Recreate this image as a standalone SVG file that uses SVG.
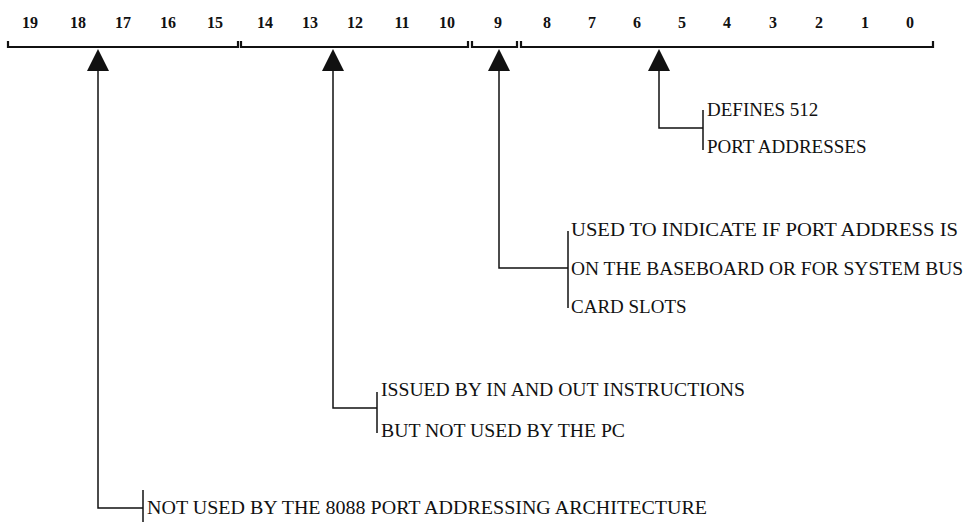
<svg xmlns="http://www.w3.org/2000/svg" width="976" height="522" viewBox="0 0 976 522">
<defs>
<style>
.bit{font-family:"Liberation Serif","Times New Roman",serif;font-size:16px;font-weight:bold;fill:#111;text-anchor:middle}
.lbl{font-family:"Liberation Serif","Times New Roman",serif;font-size:19px;fill:#111}
.br{fill:none;stroke:#111;stroke-width:2.2}
.ln{fill:none;stroke:#111;stroke-width:1.5}
.ah{fill:#111}
</style>
</defs>
<rect width="976" height="522" fill="#fff"/>
<g id="bitfield">
<path class="br" d="M8,41 V47 H238 V41"/>
<path class="br" d="M241,41 V47 H468 V41"/>
<path class="br" d="M472,41 V47 H517 V41"/>
<path class="br" d="M521,41 V47 H933 V41"/>
<text class="bit" x="30" y="28">19</text>
<text class="bit" x="78" y="28">18</text>
<text class="bit" x="123" y="28">17</text>
<text class="bit" x="168" y="28">16</text>
<text class="bit" x="215" y="28">15</text>
<text class="bit" x="265" y="28">14</text>
<text class="bit" x="310" y="28">13</text>
<text class="bit" x="355" y="28">12</text>
<text class="bit" x="402" y="28">11</text>
<text class="bit" x="447" y="28">10</text>
<text class="bit" x="498" y="28">9</text>
<text class="bit" x="547" y="28">8</text>
<text class="bit" x="592" y="28">7</text>
<text class="bit" x="637" y="28">6</text>
<text class="bit" x="682" y="28">5</text>
<text class="bit" x="727" y="28">4</text>
<text class="bit" x="773" y="28">3</text>
<text class="bit" x="819" y="28">2</text>
<text class="bit" x="865" y="28">1</text>
<text class="bit" x="910" y="28">0</text>
</g>
<g id="connectors">
<polygon class="ah" points="98,49 87,71 109,71"/>
<path class="ln" d="M98,70 V508 H143"/>
<polygon class="ah" points="333,49 322,71 344,71"/>
<path class="ln" d="M333,70 V408 H377"/>
<polygon class="ah" points="499,49 488,71 510,71"/>
<path class="ln" d="M499,70 V268 H568"/>
<polygon class="ah" points="659,49 648,71 670,71"/>
<path class="ln" d="M659,70 V128 H703"/>
</g>
<g id="note-bits-0-8">
<path class="ln" d="M703,110 V150"/>
<text class="lbl" x="707" y="116">DEFINES 512</text>
<text class="lbl" x="707" y="153">PORT ADDRESSES</text>
</g>
<g id="note-bit-9">
<path class="ln" d="M568,231 V308"/>
<text class="lbl" x="571" y="236" textLength="387" lengthAdjust="spacingAndGlyphs">USED TO INDICATE IF PORT ADDRESS IS</text>
<text class="lbl" x="571" y="275" textLength="392" lengthAdjust="spacingAndGlyphs">ON THE BASEBOARD OR FOR SYSTEM BUS</text>
<text class="lbl" x="571" y="313">CARD SLOTS</text>
</g>
<g id="note-bits-10-15">
<path class="ln" d="M377,392 V433"/>
<text class="lbl" x="381" y="396" textLength="364" lengthAdjust="spacingAndGlyphs">ISSUED BY IN AND OUT INSTRUCTIONS</text>
<text class="lbl" x="381" y="437" textLength="244" lengthAdjust="spacingAndGlyphs">BUT NOT USED BY THE PC</text>
</g>
<g id="note-bits-16-19">
<path class="ln" d="M143,490 V522"/>
<text class="lbl" x="147" y="514" textLength="560" lengthAdjust="spacingAndGlyphs">NOT USED BY THE 8088 PORT ADDRESSING ARCHITECTURE</text>
</g>
</svg>
